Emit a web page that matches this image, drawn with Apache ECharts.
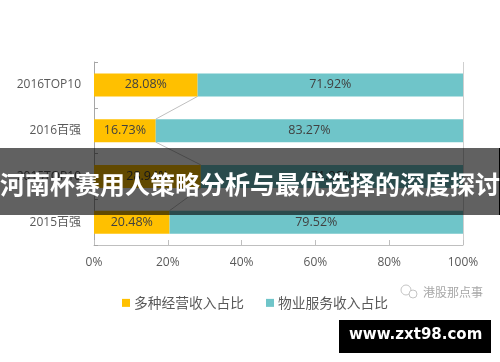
<!DOCTYPE html>
<html>
<head>
<meta charset="utf-8">
<style>html,body{margin:0;padding:0;background:#fff}#chart{width:500px;height:362px}</style>
<script src="https://cdn.jsdelivr.net/npm/echarts@6/dist/echarts.min.js"></script>
</head>
<body>
<div id="chart"></div>
<script>
// top to bottom, the y axis is inverted
const categories = ['2016TOP10', '2016百强', '2015TOP10', '2015百强'];
const otherShare = [28.08, 16.73, 28.94, 20.48];
const propertyShare = [71.92, 83.27, 71.06, 79.52];
const xTicks = [0, 20, 40, 60, 80, 100];
const legendNames = ['多种经营收入占比', '物业服务收入占比'];
const bannerTitle = '河南杯赛用人策略分析与最优选择的深度探讨';
const siteLabel = 'www.zxt98.com';
const sourceLabel = '港股那点事';

const BAR_W = 23;
const CJK = '"Noto Sans CJK SC",sans-serif';
const labelText = { color: '#404040', fontSize: 12.5, fontFamily: '"Open Sans","Noto Sans CJK SC",sans-serif' };

function pct(p) {
  return p.value.toFixed(2) + '%';
}

// grey connector between two neighbouring bars
function connector(params, api) {
  const a = api.coord([api.value(0), api.value(1)]);
  const b = api.coord([api.value(2), api.value(3)]);
  return {
    type: 'line',
    shape: { x1: a[0], y1: a[1] + BAR_W / 2, x2: b[0], y2: b[1] - BAR_W / 2 },
    style: { stroke: '#bfbfbf', lineWidth: 1 }
  };
}

const links = otherShare.slice(0, -1).map((v, i) => [v, i, otherShare[i + 1], i + 1]);

const chart = echarts.init(document.getElementById('chart'), null, { renderer: 'canvas' });
chart.setOption({
  animation: false,
  grid: { left: 94, right: 37, top: 62, bottom: 117 },
  legend: {
    left: 117,
    top: 291,
    itemWidth: 8,
    itemHeight: 8,
    itemGap: 22,
    icon: 'rect',
    data: legendNames,
    textStyle: { color: '#595959', fontSize: 13.75, fontFamily: CJK, padding: [0, 0, 0, -1] }
  },
  xAxis: {
    type: 'value',
    min: 0,
    max: 100,
    interval: 20,
    // only the 100% line is visible
    splitLine: { show: true, lineStyle: { color: ['transparent', 'transparent', 'transparent', 'transparent', 'transparent', '#cfcfcf'] } },
    axisLine: { show: true, lineStyle: { color: '#bfbfbf' } },
    axisTick: { show: true, inside: true, length: 5, lineStyle: { color: '#bfbfbf' } },
    axisLabel: {
      margin: 12,
      color: '#595959',
      fontSize: 12,
      fontFamily: '"Open Sans",sans-serif',
      formatter: v => (xTicks.includes(v) ? v + '%' : '')
    }
  },
  yAxis: {
    type: 'category',
    inverse: true,
    data: categories,
    axisLine: { show: true, lineStyle: { color: '#a6a6a6' } },
    axisTick: { show: true, inside: true, length: 4, lineStyle: { color: '#a6a6a6' } },
    axisLabel: {
      margin: 13,
      color: '#595959',
      fontSize: 12,
      fontFamily: '"Open Sans","Noto Sans CJK SC",sans-serif'
    }
  },
  series: [
    {
      name: legendNames[0],
      type: 'bar',
      stack: 'share',
      barWidth: BAR_W,
      data: otherShare,
      itemStyle: { color: '#ffc000' },
      label: { show: true, position: 'inside', formatter: pct, ...labelText }
    },
    {
      name: legendNames[1],
      type: 'bar',
      stack: 'share',
      barWidth: BAR_W,
      data: propertyShare,
      itemStyle: { color: '#6fc5c9' },
      label: { show: true, position: 'inside', formatter: pct, ...labelText }
    },
    {
      type: 'custom',
      silent: true,
      renderItem: connector,
      data: links,
      encode: { x: [0, 2], y: [1, 3] },
      z: 1
    }
  ],
  graphic: [
    { type: 'rect', z: 100, shape: { x: 0, y: 148, width: 500, height: 67 }, style: { fill: 'rgba(0,0,0,0.62)' } },
    { type: 'rect', z: 100, shape: { x: 499, y: 148, width: 1, height: 67 }, style: { fill: '#000' } },
    {
      type: 'text', z: 101, left: 'center', top: 172,
      style: { text: bannerTitle, fill: '#fff', fontSize: 25, fontWeight: 'bold', fontFamily: CJK }
    },
    { type: 'rect', z: 100, shape: { x: 339, y: 320, width: 152, height: 33 }, style: { fill: '#000' } },
    {
      type: 'text', z: 101, left: 349, top: 328,
      style: { text: siteLabel, fill: '#fff', fontSize: 15, fontWeight: 'bold', fontFamily: '"DejaVu Sans",sans-serif' }
    },
    {
      type: 'text', z: 101, left: 423, top: 286,
      style: { text: sourceLabel, fill: '#a8a8a8', fontSize: 12, fontFamily: CJK }
    },
    // wechat mark beside the source text
    { type: 'circle', z: 101, shape: { cx: 406, cy: 290, r: 5 }, style: { fill: 'none', stroke: '#c4c4c4', lineWidth: 1 } },
    { type: 'circle', z: 101, shape: { cx: 413, cy: 294, r: 4 }, style: { fill: '#fff', stroke: '#c4c4c4', lineWidth: 1 } }
  ]
});
</script>
</body>
</html>
